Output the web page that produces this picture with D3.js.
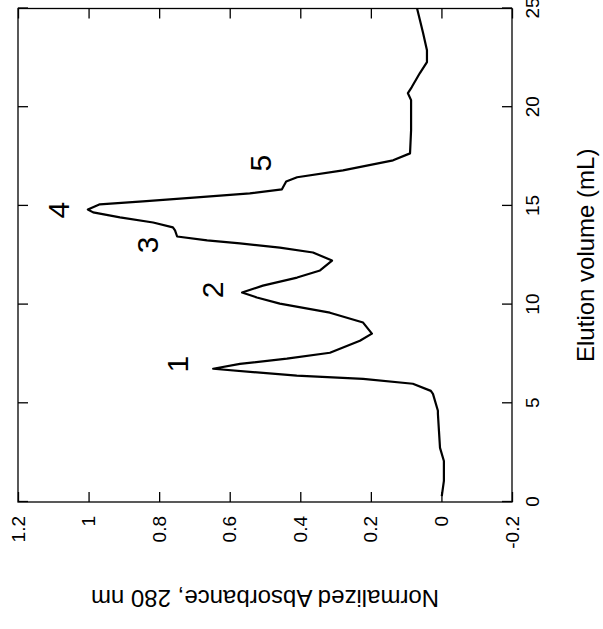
<!DOCTYPE html>
<html lang="en">
<head>
    <meta charset="UTF-8">
    <script src="https://d3js.org/d3.v7.min.js"></script>
    <style>
        body { margin: 0; background: #fff; font-family: "Liberation Sans", Arial, sans-serif; }
        .axis text { font-size: 19px; fill: #000; font-family: "Liberation Sans", Arial, sans-serif; }
        .axis path, .axis line { stroke: #000; stroke-width: 1.3; }
        .title { font-size: 24px; fill: #000; }
        .peak { font-size: 30px; fill: #000; }
    </style>
</head>
<body>
    <svg id="chart"></svg>

    <script>
        // elution volume (mL) and normalized absorbance
        const volume = [0.30, 1.07, 2.08, 2.74, 3.60, 4.47, 4.62, 5.48, 5.63, 5.99, 6.24, 6.40, 6.75,
            7.00, 7.26, 7.56, 8.17, 8.53, 9.09, 9.59, 10.05, 10.36, 10.61, 10.96, 11.37, 11.73,
            12.23, 12.64, 12.89, 13.10, 13.25, 13.45, 13.76, 13.91, 14.16, 14.42, 14.67, 14.82,
            15.08, 15.23, 15.43, 15.63, 15.84, 16.24, 16.45, 16.80, 17.31, 17.66, 18.83, 20.36,
            20.71, 21.02, 21.73, 22.28, 22.89, 23.76, 24.42, 25.00];
        const absorbance = [-0.001, -0.007, -0.007, 0.004, 0.007, 0.010, 0.010, 0.024, 0.030, 0.081, 0.222, 0.410, 0.647,
            0.571, 0.438, 0.316, 0.231, 0.197, 0.222, 0.316, 0.458, 0.523, 0.565, 0.506, 0.409, 0.344,
            0.310, 0.364, 0.458, 0.571, 0.664, 0.749, 0.755, 0.761, 0.817, 0.911, 0.987, 1.002,
            0.968, 0.846, 0.693, 0.543, 0.452, 0.440, 0.409, 0.279, 0.137, 0.089, 0.086, 0.086,
            0.095, 0.084, 0.061, 0.041, 0.041, 0.052, 0.061, 0.069];

        // peak annotations
        const peakLabels = ["1", "2", "3", "4", "5"];
        const peakVolume = [6.99, 10.74, 13.02, 14.79, 17.17];
        const peakAbs = [0.749, 0.65, 0.834, 1.087, 0.514];

        const volTicks = [0, 5, 10, 15, 20, 25];
        const absTicks = [-0.2, 0, 0.2, 0.4, 0.6, 0.8, 1, 1.2];

        const data = volume.map((v, i) => ({ v: v, a: absorbance[i] }));

        const W = 493.5, H = 494;

        const svg = d3.select("#chart")
            .attr("width", 603)
            .attr("height", 629);

        // whole figure is turned a quarter turn counter-clockwise
        const g = svg.append("g")
            .attr("transform", "translate(18,502) rotate(-90)");

        const x = d3.scaleLinear().domain([0, 25]).range([0, W]);
        const y = d3.scaleLinear().domain([-0.2, 1.2]).range([H, 0]);

        const fmt = d => String(+d.toFixed(1));

        g.append("g")
            .attr("class", "axis")
            .attr("transform", `translate(0,${H})`)
            .call(d3.axisBottom(x).tickValues(volTicks).tickSize(-10).tickPadding(14).tickFormat(fmt));

        g.append("g")
            .attr("class", "axis")
            .call(d3.axisLeft(y).tickValues(absTicks).tickSize(-10).tickPadding(14).tickFormat(fmt));

        g.append("g")
            .attr("class", "axis")
            .call(d3.axisTop(x).tickValues(volTicks).tickSize(-10).tickFormat(""));

        g.append("g")
            .attr("class", "axis")
            .attr("transform", `translate(${W},0)`)
            .call(d3.axisRight(y).tickValues(absTicks).tickSize(-10).tickFormat(""));

        g.selectAll(".axis .domain").attr("d", null);
        g.append("rect")
            .attr("width", W)
            .attr("height", H)
            .attr("fill", "none")
            .attr("stroke", "#000")
            .attr("stroke-width", 1.3);

        const line = d3.line()
            .x(d => x(d.v))
            .y(d => y(d.a));

        g.append("path")
            .datum(data)
            .attr("fill", "none")
            .attr("stroke", "#000")
            .attr("stroke-width", 2.2)
            .attr("stroke-linejoin", "round")
            .attr("d", line);

        g.selectAll(".peak")
            .data(peakLabels)
            .enter()
            .append("text")
            .attr("class", "peak")
            .attr("x", (d, i) => x(peakVolume[i]))
            .attr("y", (d, i) => y(peakAbs[i]))
            .attr("dy", "0.36em")
            .attr("text-anchor", "middle")
            .text(d => d);

        g.append("text")
            .attr("class", "title")
            .attr("x", W / 2)
            .attr("y", H + 82)
            .attr("text-anchor", "middle")
            .text("Elution volume (mL)");

        g.append("text")
            .attr("class", "title")
            .attr("transform", `translate(-96,${H / 2}) rotate(-90)`)
            .attr("dy", "0.35em")
            .attr("text-anchor", "middle")
            .text("Normalized Absorbance, 280 nm");
    </script>
</body>
</html>
